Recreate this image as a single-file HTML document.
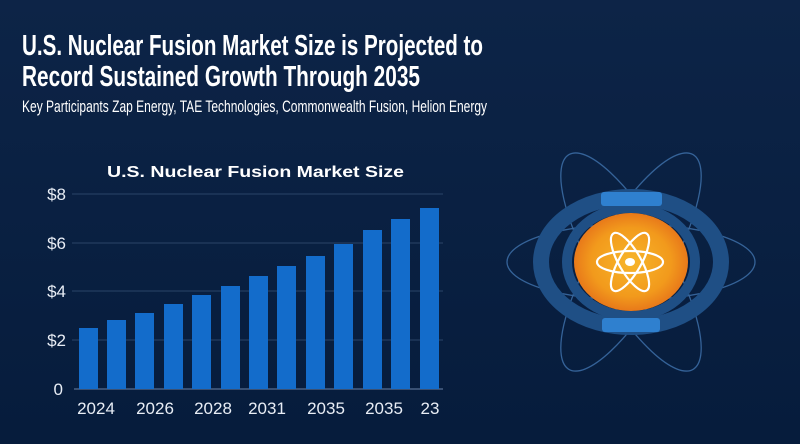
<!DOCTYPE html>
<html><head><meta charset="utf-8"><style>
html,body{margin:0;padding:0;background:#0a2043;}
svg{display:block}
</style></head><body>
<svg width="800" height="444" viewBox="0 0 800 444" xmlns="http://www.w3.org/2000/svg" font-family="Liberation Sans, sans-serif">
<defs>
<linearGradient id="bg" x1="0" y1="0" x2="0" y2="1"><stop offset="0" stop-color="#0d2447"/><stop offset="1" stop-color="#061c3c"/></linearGradient>
<radialGradient id="core" cx="0.5" cy="0.5" r="0.5"><stop offset="0" stop-color="#f7b52a"/><stop offset="0.7" stop-color="#f29a1c"/><stop offset="1" stop-color="#e8791a"/></radialGradient>
</defs>
<rect width="800" height="444" fill="url(#bg)"/>
<text x="22" y="55" font-size="29" font-weight="bold" fill="#fff" textLength="461" lengthAdjust="spacingAndGlyphs">U.S. Nuclear Fusion Market Size is Projected to</text>
<text x="22" y="86" font-size="29" font-weight="bold" fill="#fff" textLength="398" lengthAdjust="spacingAndGlyphs">Record Sustained Growth Through 2035</text>
<text x="22" y="112" font-size="17" fill="#fff" textLength="465" lengthAdjust="spacingAndGlyphs">Key Participants Zap Energy, TAE Technologies, Commonwealth Fusion, Helion Energy</text>
<text x="107" y="177" font-size="16" font-weight="bold" fill="#fff" textLength="297" lengthAdjust="spacingAndGlyphs">U.S. Nuclear Fusion Market Size</text>
<g stroke="#2a4468" stroke-width="1">
<line x1="72" y1="194" x2="443" y2="194"/><line x1="72" y1="243" x2="443" y2="243"/><line x1="72" y1="291" x2="443" y2="291"/><line x1="72" y1="340" x2="443" y2="340"/>
</g>
<line x1="74" y1="389" x2="443" y2="389" stroke="#4a6285" stroke-width="1.5"/>
<g font-size="17" fill="#e8edf5" text-anchor="end">
<text x="66" y="200">$8</text><text x="66" y="249">$6</text><text x="66" y="297">$4</text><text x="66" y="346">$2</text><text x="63" y="395">0</text>
</g>
<g fill="#136ccb">
<rect x="79" y="328" width="19" height="61"/>
<rect x="107" y="320" width="19" height="69"/>
<rect x="135" y="313" width="19" height="76"/>
<rect x="164" y="304" width="19" height="85"/>
<rect x="192" y="295" width="19" height="94"/>
<rect x="221" y="286" width="19" height="103"/>
<rect x="249" y="276" width="19" height="113"/>
<rect x="277" y="266" width="19" height="123"/>
<rect x="306" y="256" width="19" height="133"/>
<rect x="334" y="244" width="19" height="145"/>
<rect x="363" y="230" width="19" height="159"/>
<rect x="391" y="219" width="19" height="170"/>
<rect x="420" y="208" width="19" height="181"/>
</g>
<g font-size="17" fill="#e8edf5" text-anchor="middle">
<text x="96" y="414">2024</text><text x="155" y="414">2026</text><text x="213" y="414">2028</text><text x="267" y="414">2031</text><text x="326" y="414">2035</text><text x="384" y="414">2035</text><text x="430" y="414">23</text>
</g>
<g fill="none" stroke="#3d6fa8" stroke-width="1.3" opacity="0.85">
<ellipse cx="631" cy="262" rx="124" ry="38"/>
<ellipse cx="631" cy="262" rx="124" ry="38" transform="rotate(60 631 262)"/>
<ellipse cx="631" cy="262" rx="124" ry="38" transform="rotate(-60 631 262)"/>
</g>
<ellipse cx="631" cy="262" rx="90" ry="65" fill="none" stroke="#1f4f85" stroke-width="16"/>
<ellipse cx="631" cy="262" rx="64" ry="54" fill="none" stroke="#1f4f85" stroke-width="10"/>
<ellipse cx="631" cy="262" rx="57" ry="49" fill="url(#core)"/>
<rect x="601" y="192" width="61" height="14" rx="3" fill="#2f80cf"/>
<rect x="602" y="318" width="58" height="14" rx="3" fill="#2f80cf"/>
<g fill="none" stroke="#fff" stroke-width="2.2">
<ellipse cx="630" cy="262" rx="33" ry="11"/>
<ellipse cx="630" cy="262" rx="33" ry="11" transform="rotate(60 630 262)"/>
<ellipse cx="630" cy="262" rx="33" ry="11" transform="rotate(-60 630 262)"/>
</g>
<ellipse cx="630" cy="262" rx="5" ry="4" fill="#fff"/>
</svg>
</body></html>
